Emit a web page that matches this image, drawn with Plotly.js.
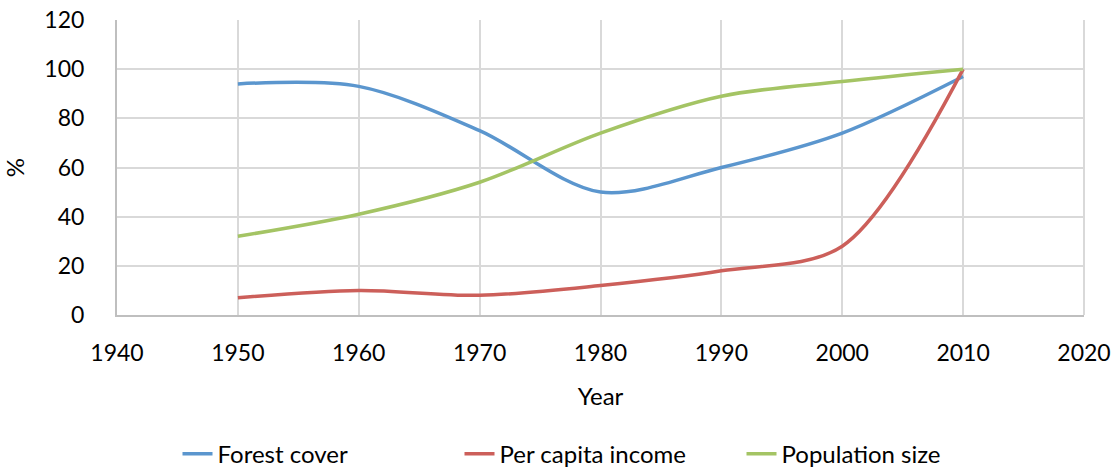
<!DOCTYPE html>
<html>
<head>
<meta charset="utf-8">
<script src="https://cdn.plot.ly/plotly-3.0.1.min.js"></script>
<style>html,body{margin:0;padding:0;background:#fff;}#chart{width:1115px;height:468px;}</style>
</head>
<body>
<div id="chart"></div>
<script>
var years = [1950, 1960, 1970, 1980, 1990, 2000, 2010];
var forestCover = [94, 93, 75, 50, 60, 74, 97];
var perCapitaIncome = [7, 10, 8, 12, 18, 28, 100];
var populationSize = [32, 41, 54, 74, 89, 95, 100];
var seriesNames = ["Forest cover", "Per capita income", "Population size"];
var xTicks = [1940, 1950, 1960, 1970, 1980, 1990, 2000, 2010, 2020];
var yTicks = [0, 20, 40, 60, 80, 100, 120];

var fontFam = "Lato, 'Open Sans', sans-serif";
function tr(name, y, color) {
  return {x: years, y: y, name: name, type: 'scatter', mode: 'lines',
    line: {color: color, width: 3.5, shape: 'spline', smoothing: 0.9}};
}
var data = [
  tr(seriesNames[0], forestCover, '#5B96CE'),
  tr(seriesNames[1], perCapitaIncome, '#CC5F5A'),
  tr(seriesNames[2], populationSize, '#A4C464')
];
var layout = {
  width: 1115, height: 468,
  margin: {l: 117, r: 31, t: 20, b: 153, autoexpand: false},
  paper_bgcolor: '#fff', plot_bgcolor: '#fff',
  font: {family: fontFam, size: 23, color: '#000'},
  xaxis: {range: [1940, 2020], tickvals: xTicks, ticktext: xTicks.map(String),
    showgrid: true, gridcolor: '#d9d9d9', gridwidth: 2,
    showline: true, linecolor: '#bfbfbf', linewidth: 2, mirror: false,
    zeroline: false, ticks: '', ticklen: 0, ticklabelstandoff: 16,
    automargin: false,
    title: {text: 'Year', font: {size: 24}, standoff: 24}},
  yaxis: {range: [0, 120], tickvals: yTicks, ticktext: yTicks.map(String),
    showgrid: true, gridcolor: '#d9d9d9', gridwidth: 2,
    showline: true, linecolor: '#bfbfbf', linewidth: 2,
    zeroline: false, ticks: '', ticklen: 0, ticklabelstandoff: 26,
    automargin: false,
    title: {text: '%', font: {size: 24}, standoff: 15}},
  shapes: [{type: 'line', xref: 'paper', yref: 'paper', x0: 1, x1: 1, y0: 0, y1: 1,
    line: {color: '#d9d9d9', width: 2}}],
  showlegend: true,
  legend: {orientation: 'h', x: 0.5, xanchor: 'center', y: -0.548, yanchor: 'bottom',
    font: {size: 24}, itemwidth: 30, tracegroupgap: 0,
    entrywidth: 237, entrywidthmode: 'pixels'}
};
Plotly.newPlot('chart', data, layout, {displayModeBar: false, staticPlot: true});
</script>
</body>
</html>
